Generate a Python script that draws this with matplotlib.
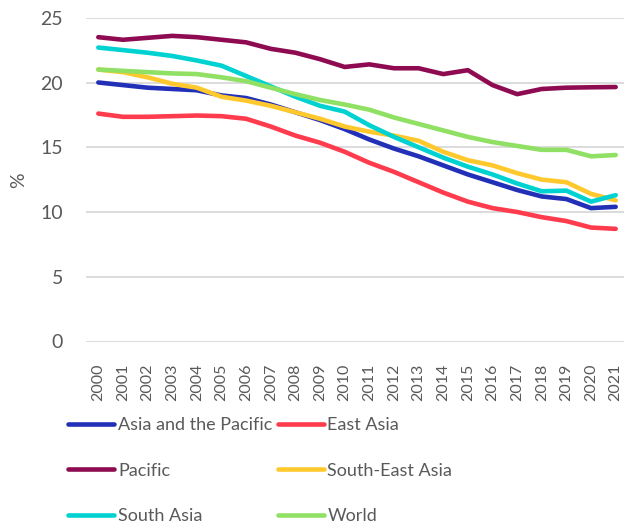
import matplotlib.pyplot as plt

years = [str(y) for y in range(2000, 2022)]

asia_pacific = [20.0, 19.8, 19.6, 19.5, 19.4, 19.0, 18.8, 18.3, 17.7, 17.1, 16.4,
                15.6, 14.9, 14.3, 13.6, 12.9, 12.3, 11.7, 11.2, 11.0, 10.3, 10.4]
east_asia = [17.6, 17.35, 17.35, 17.4, 17.45, 17.4, 17.2, 16.6, 15.9, 15.35, 14.65,
             13.8, 13.1, 12.3, 11.5, 10.8, 10.3, 10.0, 9.6, 9.3, 8.8, 8.7]
pacific = [23.5, 23.3, 23.45, 23.6, 23.5, 23.3, 23.1, 22.6, 22.3, 21.8, 21.2,
           21.4, 21.1, 21.1, 20.65, 20.95, 19.8, 19.1, 19.5, 19.6, 19.63, 19.65]
south_east_asia = [21.0, 20.8, 20.4, 19.9, 19.6, 18.9, 18.6, 18.2, 17.7, 17.2, 16.6,
                   16.2, 15.9, 15.5, 14.65, 14.0, 13.6, 13.0, 12.5, 12.3, 11.4, 10.9]
south_asia = [22.7, 22.5, 22.3, 22.05, 21.7, 21.3, 20.5, 19.7, 18.9, 18.2, 17.75,
              16.7, 15.8, 15.0, 14.2, 13.5, 12.9, 12.2, 11.6, 11.65, 10.8, 11.3]
world = [21.0, 20.9, 20.8, 20.7, 20.65, 20.4, 20.1, 19.6, 19.1, 18.65, 18.3,
         17.9, 17.3, 16.8, 16.3, 15.8, 15.4, 15.1, 14.8, 14.8, 14.3, 14.4]

series = [
    ("Asia and the Pacific", asia_pacific, "#2230B8"),
    ("East Asia", east_asia, "#FF3B4E"),
    ("Pacific", pacific, "#8E0B52"),
    ("South-East Asia", south_east_asia, "#FFC92E"),
    ("South Asia", south_asia, "#00D2D2"),
    ("World", world, "#8FE063"),
]

grey = "#595959"
plt.rcParams["font.family"] = ["Lato", "DejaVu Sans"]

W, H = 624, 526
fig = plt.figure(figsize=(W / 100, H / 100), dpi=100)
ax = fig.add_axes([86 / W, 1 - 341.5 / H, (628 - 86) / W, (341.5 - 17.75) / H])

x = range(len(years))
handles = {}
for name, vals, col in series:
    h, = ax.plot(x, vals, color=col, lw=3.3, solid_capstyle="round",
                 solid_joinstyle="round", label=name)
    handles[name] = h

ax.set_xlim(-0.5, len(years) - 0.5)
ax.set_ylim(0, 25)
ax.set_yticks([0, 5, 10, 15, 20, 25])
ax.set_xticks(list(x))
ax.set_xticklabels(years, rotation=90)
ax.grid(axis="y", color="#D9D9D9", lw=1.3)
ax.set_axisbelow(True)
for s in ax.spines.values():
    s.set_visible(False)
ax.tick_params(axis="y", length=0, pad=16.5, labelsize=14, labelcolor=grey)
ax.tick_params(axis="x", length=0, pad=16, labelsize=11.5, labelcolor=grey)

# y axis title
fig.text(19 / W, 1 - 180 / H, "%", rotation=90, ha="center", va="center",
         fontsize=14, color=grey)

# legend: rows as in the reference, matplotlib fills by column
order = ["Asia and the Pacific", "Pacific", "South Asia",
         "East Asia", "South-East Asia", "World"]
leg = fig.legend([handles[n] for n in order], order, ncol=2,
                 loc="upper left", bbox_to_anchor=(52 / W, 1 - 401 / H),
                 frameon=False, fontsize=13, labelcolor=grey,
                 handlelength=2.55, handletextpad=0.2, columnspacing=0.3,
                 labelspacing=1.63)

fig.savefig("out.png", dpi=100)
